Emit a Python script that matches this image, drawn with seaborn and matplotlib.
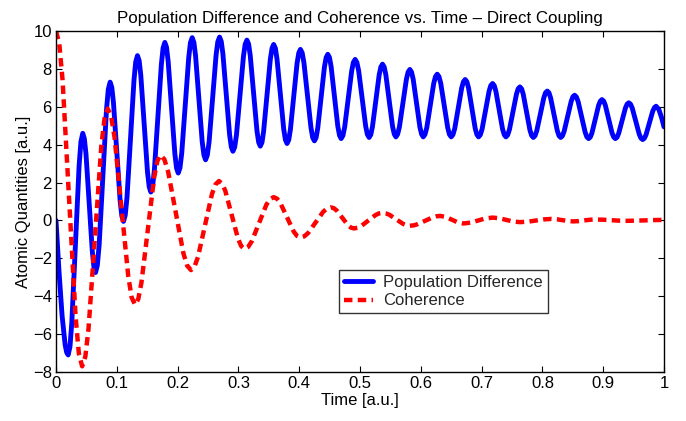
import numpy as np
import pandas as pd
import matplotlib
matplotlib.use("Agg")
import matplotlib.pyplot as plt
import seaborn as sns

# ---- data ----
pop_time = [
    0.000, 0.005, 0.010, 0.015, 0.0175, 0.020,
    0.023, 0.026, 0.032, 0.038, 0.041, 0.044,
    0.0466, 0.0493, 0.0545, 0.0598, 0.0624, 0.065,
    0.068, 0.071, 0.077, 0.083, 0.086, 0.089,
    0.0918, 0.0945, 0.100, 0.1055, 0.1083, 0.111,
    0.1139, 0.1168, 0.1225, 0.1283, 0.1311, 0.134,
    0.1368, 0.1395, 0.145, 0.1505, 0.1533, 0.156,
    0.1589, 0.1618, 0.1675, 0.1733, 0.1761, 0.179,
    0.1818, 0.1845, 0.190, 0.1955, 0.1983, 0.201,
    0.2039, 0.2068, 0.2125, 0.2183, 0.2211, 0.224,
    0.2268, 0.2295, 0.235, 0.2405, 0.2433, 0.246,
    0.2489, 0.2518, 0.2575, 0.2633, 0.2661, 0.269,
    0.2718, 0.2745, 0.280, 0.2855, 0.2883, 0.291,
    0.2939, 0.2968, 0.3025, 0.3083, 0.3111, 0.314,
    0.3168, 0.3195, 0.325, 0.3305, 0.3333, 0.336,
    0.3388, 0.3415, 0.347, 0.3525, 0.3553, 0.358,
    0.3608, 0.3635, 0.369, 0.3745, 0.3773, 0.380,
    0.3828, 0.3855, 0.391, 0.3965, 0.3993, 0.402,
    0.4049, 0.4078, 0.4135, 0.4193, 0.4221, 0.425,
    0.4278, 0.4305, 0.436, 0.4415, 0.4443, 0.447,
    0.4498, 0.4525, 0.458, 0.4635, 0.4663, 0.469,
    0.4719, 0.4748, 0.4805, 0.4863, 0.4891, 0.492,
    0.4949, 0.4978, 0.5035, 0.5093, 0.5121, 0.515,
    0.5178, 0.5205, 0.526, 0.5315, 0.5343, 0.537,
    0.5398, 0.5425, 0.548, 0.5535, 0.5563, 0.559,
    0.5619, 0.5648, 0.5705, 0.5763, 0.5791, 0.582,
    0.5848, 0.5875, 0.593, 0.5985, 0.6013, 0.604,
    0.6069, 0.6098, 0.6155, 0.6213, 0.6241, 0.627,
    0.6299, 0.6328, 0.6385, 0.6443, 0.6471, 0.650,
    0.6529, 0.6558, 0.6615, 0.6673, 0.6701, 0.673,
    0.6758, 0.6785, 0.684, 0.6895, 0.6923, 0.695,
    0.6979, 0.7008, 0.7065, 0.7123, 0.7151, 0.718,
    0.7208, 0.7235, 0.729, 0.7345, 0.7373, 0.740,
    0.7429, 0.7458, 0.7515, 0.7573, 0.7601, 0.763,
    0.7658, 0.7685, 0.774, 0.7795, 0.7823, 0.785,
    0.7879, 0.7908, 0.7965, 0.8023, 0.8051, 0.808,
    0.8108, 0.8135, 0.819, 0.8245, 0.8273, 0.830,
    0.8329, 0.8358, 0.8415, 0.8473, 0.8501, 0.853,
    0.8559, 0.8588, 0.8645, 0.8703, 0.8731, 0.876,
    0.8788, 0.8815, 0.887, 0.8925, 0.8953, 0.898,
    0.9008, 0.9035, 0.909, 0.9145, 0.9173, 0.920,
    0.9228, 0.9255, 0.931, 0.9365, 0.9393, 0.942,
    0.9449, 0.9478, 0.9535, 0.9593, 0.9621, 0.965,
    0.9678, 0.9705, 0.976, 0.9815, 0.9843, 0.987,
    0.9915, 0.996, 1.000,
]
pop_diff = [
    0.0, -2.72, -5.02, -6.56, -6.96, -7.1,
    -6.66, -5.39, -1.25, 2.89, 4.16, 4.6,
    4.32, 3.52, 0.93, -1.67, -2.47, -2.75,
    -2.37, -1.28, 2.28, 5.83, 6.92, 7.3,
    7.02, 6.22, 3.63, 1.03, 0.23, -0.05,
    0.28, 1.23, 4.33, 7.42, 8.37, 8.7,
    8.43, 7.65, 5.10, 2.55, 1.77, 1.5,
    1.80, 2.66, 5.45, 8.24, 9.10, 9.4,
    9.14, 8.39, 5.95, 3.51, 2.76, 2.5,
    2.77, 3.55, 6.08, 8.60, 9.38, 9.65,
    9.40, 8.71, 6.43, 4.14, 3.45, 3.2,
    3.45, 4.15, 6.44, 8.73, 9.43, 9.68,
    9.45, 8.80, 6.67, 4.53, 3.88, 3.65,
    3.87, 4.51, 6.59, 8.66, 9.30, 9.52,
    9.31, 8.70, 6.72, 4.74, 4.13, 3.92,
    4.12, 4.71, 6.61, 8.50, 9.09, 9.29,
    9.09, 8.52, 6.68, 4.83, 4.26, 4.06,
    4.25, 4.79, 6.55, 8.30, 8.84, 9.03,
    8.85, 8.32, 6.62, 4.91, 4.38, 4.20,
    4.37, 4.87, 6.49, 8.10, 8.60, 8.77,
    8.60, 8.12, 6.55, 4.97, 4.49, 4.32,
    4.48, 4.93, 6.41, 7.89, 8.34, 8.50,
    8.34, 7.90, 6.44, 4.98, 4.54, 4.38,
    4.53, 4.95, 6.32, 7.68, 8.10, 8.25,
    8.10, 7.69, 6.33, 4.97, 4.56, 4.41,
    4.55, 4.93, 6.19, 7.45, 7.83, 7.97,
    7.83, 7.45, 6.19, 4.93, 4.55, 4.41,
    4.54, 4.89, 6.07, 7.24, 7.59, 7.72,
    7.59, 7.24, 6.07, 4.89, 4.54, 4.41,
    4.53, 4.85, 5.93, 7.00, 7.32, 7.44,
    7.32, 7.00, 5.93, 4.85, 4.53, 4.41,
    4.52, 4.82, 5.82, 6.82, 7.12, 7.23,
    7.12, 6.82, 5.82, 4.82, 4.52, 4.41,
    4.51, 4.80, 5.73, 6.66, 6.95, 7.05,
    6.95, 6.66, 5.72, 4.77, 4.48, 4.38,
    4.47, 4.74, 5.61, 6.47, 6.74, 6.83,
    6.74, 6.47, 5.61, 4.74, 4.47, 4.38,
    4.46, 4.71, 5.50, 6.28, 6.53, 6.61,
    6.52, 6.27, 5.47, 4.66, 4.41, 4.32,
    4.40, 4.62, 5.35, 6.08, 6.30, 6.38,
    6.30, 6.08, 5.35, 4.62, 4.40, 4.32,
    4.39, 4.60, 5.27, 5.93, 6.14, 6.21,
    6.14, 5.93, 5.24, 4.55, 4.34, 4.27,
    4.34, 4.53, 5.15, 5.77, 5.96, 6.03,
    5.86, 5.43, 4.94,
]

coh_time = [
    0.000, 0.0054, 0.0108, 0.0215, 0.0323, 0.0376, 0.043,
    0.0483, 0.0535, 0.064, 0.0745, 0.0798, 0.085,
    0.0906, 0.0963, 0.1075, 0.1188, 0.1244, 0.130,
    0.1353, 0.1405, 0.151, 0.1615, 0.1668, 0.172,
    0.1783, 0.1845, 0.197, 0.2095, 0.2158, 0.222,
    0.2278, 0.2335, 0.245, 0.2565, 0.2623, 0.268,
    0.2733, 0.2785, 0.289, 0.2995, 0.3048, 0.310,
    0.316, 0.322, 0.334, 0.346, 0.352, 0.358,
    0.3635, 0.369, 0.380, 0.391, 0.3965, 0.402,
    0.4083, 0.4145, 0.427, 0.4395, 0.4458, 0.452,
    0.4568, 0.4615, 0.471, 0.4805, 0.4853, 0.490,
    0.4959, 0.5018, 0.5135, 0.5253, 0.5311, 0.537,
    0.5426, 0.5483, 0.5595, 0.5708, 0.5764, 0.582,
    0.5883, 0.5945, 0.607, 0.6195, 0.6258, 0.632,
    0.6415, 0.651, 0.6605, 0.670,
    0.682, 0.694, 0.706, 0.718,
    0.7293, 0.7405, 0.7518, 0.763,
    0.776, 0.789, 0.802, 0.815,
    0.824, 0.833, 0.842, 0.851,
    0.8598, 0.8685, 0.8773, 0.886,
    0.8993, 0.9125, 0.9258, 0.939,
    0.954, 0.9695, 0.985, 1.000,
]
coherence = [
    10.0, 9.33, 7.41, 1.15, -5.11, -7.03, -7.7,
    -7.18, -5.71, -0.90, 3.91, 5.38, 5.9,
    5.51, 4.39, 0.73, -2.93, -4.06, -4.45,
    -4.15, -3.29, -0.50, 2.29, 3.15, 3.45,
    3.22, 2.56, 0.415, -1.73, -2.39, -2.62,
    -2.44, -1.93, -0.27, 1.39, 1.90, 2.08,
    1.94, 1.56, 0.29, -0.98, -1.36, -1.50,
    -1.40, -1.10, -0.135, 0.83, 1.13, 1.23,
    1.15, 0.92, 0.165, -0.59, -0.82, -0.90,
    -0.84, -0.67, -0.105, 0.46, 0.63, 0.69,
    0.65, 0.53, 0.135, -0.26, -0.38, -0.42,
    -0.39, -0.30, -0.01, 0.28, 0.37, 0.40,
    0.37, 0.30, 0.06, -0.18, -0.25, -0.28,
    -0.26, -0.20, -0.02, 0.16, 0.22, 0.24,
    0.18, 0.04, -0.10, -0.16,
    -0.115, -0.005, 0.105, 0.15,
    0.115, 0.03, -0.055, -0.09,
    -0.065, -0.005, 0.055, 0.08,
    0.06, 0.015, -0.03, -0.05,
    -0.035, 0.0, 0.035, 0.05,
    0.04, 0.015, -0.01, -0.02,
    -0.01, 0.005, 0.02, 0.03,
]

x_ticks = [0, 0.1, 0.2, 0.3, 0.4, 0.5, 0.6, 0.7, 0.8, 0.9, 1]
x_tick_labels = ["0", "0.1", "0.2", "0.3", "0.4", "0.5", "0.6", "0.7", "0.8", "0.9", "1"]
y_ticks = [-8, -6, -4, -2, 0, 2, 4, 6, 8, 10]

title = "Population Difference and Coherence vs. Time \u2013 Direct Coupling"
series_names = ["Population Difference", "Coherence"]

# ---- plotting ----
sns.set_theme(style="white")
plt.rcParams["font.family"] = ["Liberation Sans", "DejaVu Sans"]

fig = plt.figure(figsize=(6.86, 4.21), dpi=100)
ax = fig.add_axes([56 / 686, 1 - 372 / 421, (664 - 56) / 686, (372 - 31) / 421])

df_pop = pd.DataFrame({"t": pop_time, "v": pop_diff})
df_coh = pd.DataFrame({"t": coh_time, "v": coherence})

sns.lineplot(data=df_pop, x="t", y="v", ax=ax, color=(0, 0, 1), linewidth=3.5,
             estimator=None, sort=False, label=series_names[0],
             solid_joinstyle="round", solid_capstyle="round")
sns.lineplot(data=df_coh, x="t", y="v", ax=ax, color=(1, 0, 0), linewidth=3.2,
             estimator=None, sort=False, label=series_names[1],
             linestyle=(0, (1.9, 1.2)), dash_joinstyle="round", dash_capstyle="butt")

ax.set_xlim(0, 1)
ax.set_ylim(-8, 10)
ax.set_xticks(x_ticks)
ax.set_xticklabels(x_tick_labels)
ax.set_yticks(y_ticks)

for side in ["top", "right", "bottom", "left"]:
    ax.spines[side].set_visible(True)
    ax.spines[side].set_color("black")
    ax.spines[side].set_linewidth(1.0)

ax.tick_params(axis="both", which="both", direction="in", length=4.5, width=0.8,
               top=True, right=True, bottom=True, left=True,
               labelsize=12, colors="black", pad=3)

ax.set_xlabel("Time [a.u.]", fontsize=12, color="black", labelpad=1)
ax.set_ylabel("Atomic Quantities [a.u.]", fontsize=12, color="black", labelpad=1)
ax.set_title(title, fontsize=12.2, color="black", pad=6)

leg = ax.legend(loc="upper left", bbox_to_anchor=(0.465, 0.299), fontsize=12,
                frameon=True, fancybox=False, edgecolor="black",
                handlelength=1.75, borderpad=0.3, labelspacing=0.2,
                handletextpad=0.6, borderaxespad=0)
leg.get_frame().set_linewidth(1.0)
leg.get_frame().set_facecolor("white")

fig.savefig("out.png", dpi=100)
